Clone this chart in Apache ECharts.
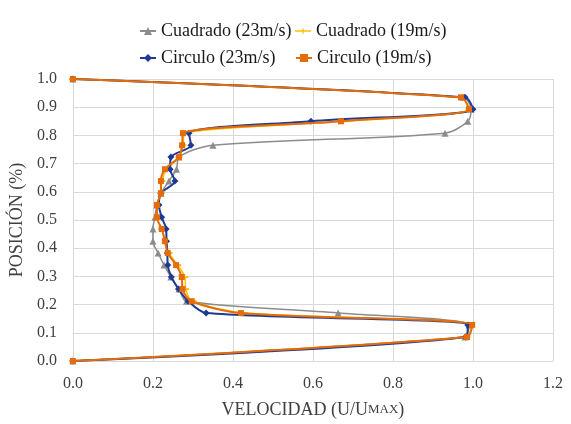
<!DOCTYPE html>
<html>
<head>
<meta charset="utf-8">
<script src="https://cdn.jsdelivr.net/npm/echarts@6/dist/echarts.min.js"></script>
<style>html,body{margin:0;padding:0;background:#fff}#c{width:571px;height:424px}</style>
</head>
<body>
<div id="c"></div>
<script>
var seriesNames = ['Cuadrado (23m/s)', 'Cuadrado (19m/s)', 'Circulo (23m/s)', 'Circulo (19m/s)'];
var posicion = [1.0, 0.935, 0.893, 0.85, 0.808, 0.765, 0.723, 0.68, 0.638, 0.595, 0.553, 0.51, 0.468, 0.425, 0.383, 0.34, 0.298, 0.255, 0.212, 0.17, 0.128, 0.085, 0.0];
var cuadrado23 = [0, 0.975, 0.995, 0.987, 0.93, 0.35, 0.265, 0.259, 0.24, 0.22, 0.21, 0.205, 0.2, 0.2, 0.213, 0.228, 0.245, 0.265, 0.284, 0.663, 0.99, 0.98, 0];
var cuadrado19 = [0, 0.97, 0.99, 0.68, 0.28, 0.275, 0.265, 0.235, 0.222, 0.22, 0.212, 0.21, 0.222, 0.232, 0.24, 0.262, 0.28, 0.282, 0.3, 0.43, 0.995, 0.985, 0];
var circulo23 = [0, 0.98, 1.0, 0.595, 0.29, 0.295, 0.245, 0.243, 0.255, 0.22, 0.215, 0.222, 0.233, 0.234, 0.236, 0.237, 0.246, 0.264, 0.288, 0.333, 0.987, 0.981, 0];
var circulo19 = [0, 0.97, 0.99, 0.67, 0.275, 0.273, 0.265, 0.23, 0.22, 0.22, 0.21, 0.21, 0.222, 0.23, 0.237, 0.258, 0.272, 0.274, 0.297, 0.42, 0.998, 0.985, 0];
var xTicks = ['0.0', '0.2', '0.4', '0.6', '0.8', '1.0', '1.2'];
var yTicks = ['0.0', '0.1', '0.2', '0.3', '0.4', '0.5', '0.6', '0.7', '0.8', '0.9', '1.0'];

function pairs(xs) { return xs.map(function (v, i) { return [v, posicion[i]]; }); }

var FONT = 'Liberation Serif';
var TXT = '#404040';
var colors = ['#8c8c8c', '#ffc000', '#1f3a93', '#e46c0a'];
var symbols = ['triangle', 'path://M0,0H10V2H0Z', 'diamond', 'rect'];
var symSizes = [7, [7, 2], 7, 6];
var widths = [1.5, 1.5, 2, 2];
var allX = [cuadrado23, cuadrado19, circulo23, circulo19];

function legendAt(name, left, top, icon) {
  var item = icon ? { name: name, icon: icon } : name;
  return {
    data: [item], left: left, top: top, itemWidth: 16, itemHeight: 10, itemGap: 0,
    textStyle: { fontFamily: FONT, fontSize: 18, color: '#1a1a1a' }
  };
}

var chart = echarts.init(document.getElementById('c'));
chart.setOption({
  animation: false,
  color: colors,
  textStyle: { fontFamily: FONT },
  legend: [
    legendAt(seriesNames[0], 134, 17),
    legendAt(seriesNames[1], 290, 17, 'path://M0,4.3H16V5.7H0Z M7.3,2.5H8.7V7.5H7.3Z'),
    legendAt(seriesNames[2], 134, 44),
    legendAt(seriesNames[3], 290, 44)
  ],
  grid: { left: 72, right: 18, top: 79, bottom: 62, containLabel: false },
  xAxis: {
    type: 'value', min: 0, max: 1.2, interval: 0.2,
    name: 'VELOCIDAD (U/U{s|MAX})', nameLocation: 'middle', nameGap: 40,
    nameTextStyle: { fontFamily: FONT, fontSize: 18, color: TXT, rich: { s: { fontFamily: FONT, fontSize: 13, color: TXT } } },
    axisLine: { show: true, lineStyle: { color: '#d9d9d9' } },
    axisTick: { show: false },
    splitLine: { show: true, lineStyle: { color: '#d9d9d9' } },
    axisLabel: { fontFamily: FONT, fontSize: 16, color: TXT, margin: 15,
      formatter: function (v) { return xTicks[Math.round(v / 0.2)]; } }
  },
  yAxis: {
    type: 'value', min: 0, max: 1, interval: 0.1,
    name: 'POSICIÓN (%)', nameLocation: 'middle', nameGap: 43,
    nameTextStyle: { fontFamily: FONT, fontSize: 18, color: TXT },
    axisLine: { show: true, lineStyle: { color: '#d9d9d9' } },
    axisTick: { show: false },
    splitLine: { show: true, lineStyle: { color: '#d9d9d9' } },
    axisLabel: { fontFamily: FONT, fontSize: 16, color: TXT, margin: 16,
      formatter: function (v) { return yTicks[Math.round(v / 0.1)]; } }
  },
  series: seriesNames.map(function (n, i) {
    return {
      name: n, type: 'line', data: pairs(allX[i]), smooth: 0.3,
      symbol: symbols[i], symbolSize: symSizes[i], showSymbol: true,
      lineStyle: { width: widths[i], color: colors[i] },
      itemStyle: { color: colors[i] },
      z: 2 + i
    };
  })
});
</script>
</body>
</html>
